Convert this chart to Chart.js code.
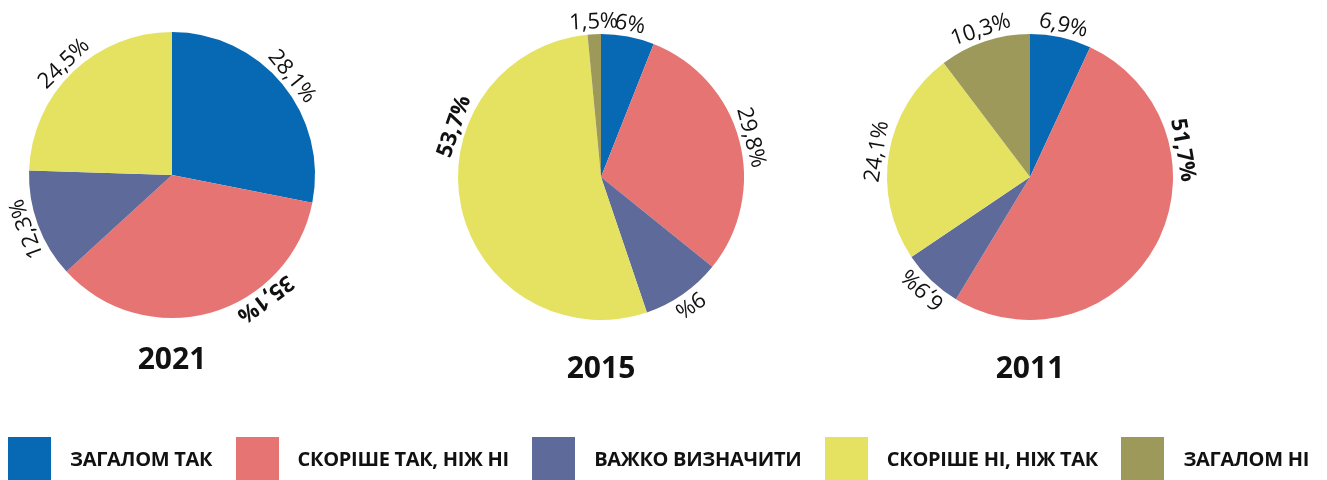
<!DOCTYPE html>
<html lang="uk">
<head>
<meta charset="UTF-8">
<title>Опитування</title>
<script src="https://cdn.jsdelivr.net/npm/chart.js@4.4.0/dist/chart.umd.min.js"></script>
<style>
  html, body { margin: 0; padding: 0; background: #fff; }
  body { width: 1327px; height: 480px; position: relative; overflow: hidden; font-family: "Open Sans", "Noto Sans", sans-serif; }
  canvas { position: absolute; }
  #legend { position: absolute; left: 8px; right: 18px; top: 437px; display: flex; justify-content: space-between; }
  .item { display: flex; align-items: center; }
  .box { width: 43px; height: 43px; margin-right: 19px; }
  .lbl { font-weight: 700; font-size: 20px; color: #111; letter-spacing: -0.3px; }
</style>
</head>
<body>
<canvas id="pie2021" width="340" height="440" style="left:2px; top:5px"></canvas>
<canvas id="pie2015" width="340" height="440" style="left:431px; top:7px"></canvas>
<canvas id="pie2011" width="340" height="440" style="left:860px; top:7px"></canvas>
<div id="legend"></div>

<script>
// категорії відповідей
const categories = ['ЗАГАЛОМ ТАК', 'СКОРІШЕ ТАК, НІЖ НІ', 'ВАЖКО ВИЗНАЧИТИ', 'СКОРІШЕ НІ, НІЖ ТАК', 'ЗАГАЛОМ НІ'];
const colors = ['#0769b3', '#e57473', '#5e6a9a', '#e5e262', '#9c995b'];

// значення, %
const values2021 = [28.1, 35.1, 12.3, 24.5, 0];
const values2015 = [6, 29.8, 9, 53.7, 1.5];
const values2011 = [6.9, 51.7, 6.9, 24.1, 10.3];

// підписи відсотків (з комою)
function fmt(v) { return String(v).replace('.', ',') + '%'; }

// підписи навколо кола, повернуті по дотичній
const arcLabels = {
    id: 'arcLabels',
    afterDatasetsDraw(chart, args, opts) {
        const ctx = chart.ctx;
        const meta = chart.getDatasetMeta(0);
        const data = chart.data.datasets[0].data;
        const max = Math.max(...data);
        meta.data.forEach((arc, i) => {
            const v = data[i];
            if (!v) return;
            const p = arc.getProps(['x', 'y', 'startAngle', 'endAngle', 'outerRadius'], true);
            let a = (p.startAngle + p.endAngle) / 2;
            // великий підпис зсунутий, як в оригіналі
            if (v === max && opts.bigAngle != null) a = (opts.bigAngle - 90) * Math.PI / 180;
            const r = p.outerRadius + 12;
            ctx.save();
            ctx.translate(p.x + r * Math.cos(a), p.y + r * Math.sin(a));
            ctx.rotate(a + Math.PI / 2);
            ctx.font = (v === max ? '700 ' : '400 ') + '22px "Open Sans", sans-serif';
            ctx.fillStyle = '#111';
            ctx.textAlign = 'center';
            ctx.textBaseline = 'middle';
            ctx.fillText(fmt(v), 0, 0);
            ctx.restore();
        });
        // рік під діаграмою
        const c = meta.data[0];
        ctx.save();
        ctx.font = '700 30px "Open Sans", sans-serif';
        ctx.fillStyle = '#111';
        ctx.textAlign = 'center';
        ctx.textBaseline = 'middle';
        ctx.fillText(opts.year, c.x, c.y + opts.yearOffset);
        ctx.restore();
    }
};

function makePie(id, values, year, bigAngle, yearOffset) {
    return new Chart(document.getElementById(id), {
        type: 'pie',
        data: {
            labels: categories,
            datasets: [{
                data: values,
                backgroundColor: colors,
                borderWidth: 0
            }]
        },
        options: {
            responsive: false,
            animation: false,
            radius: 143,
            layout: { padding: { bottom: 100 } },
            plugins: {
                legend: { display: false },
                tooltip: { enabled: false },
                arcLabels: { year: year, bigAngle: bigAngle, yearOffset: yearOffset }
            }
        },
        plugins: [arcLabels]
    });
}

makePie('pie2021', values2021, '2021', 143, 185);
makePie('pie2015', values2015, '2015', 289, 192);
makePie('pie2011', values2011, '2011', 80, 192);

// легенда
const legend = document.getElementById('legend');
categories.forEach((name, i) => {
    const item = document.createElement('div');
    item.className = 'item';
    item.innerHTML = '<div class="box" style="background:' + colors[i] + '"></div><span class="lbl">' + name + '</span>';
    legend.appendChild(item);
});
</script>
</body>
</html>
